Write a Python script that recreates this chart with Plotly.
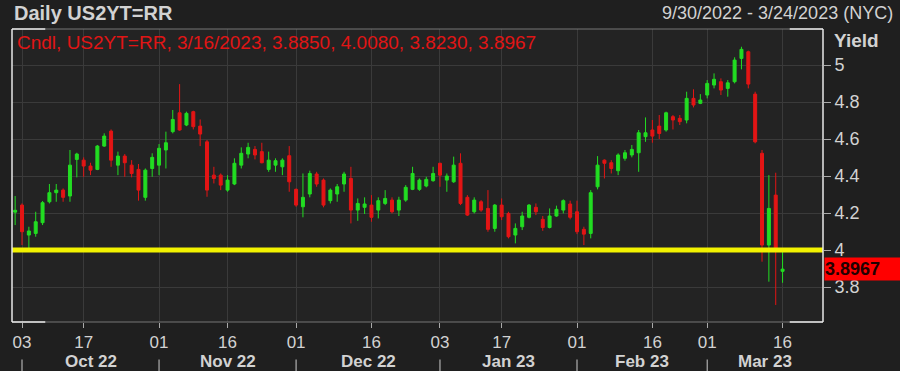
import plotly.graph_objects as go
import pandas as pd

# ---------------- data ----------------
holidays = ["2022-10-10", "2022-11-11", "2022-11-24", "2022-12-26",
            "2023-01-02", "2023-01-16", "2023-02-20"]
dates = [d.strftime("%Y-%m-%d") for d in pd.bdate_range("2022-09-30", "2023-03-16")
         if d.strftime("%Y-%m-%d") not in holidays]

opens = [4.205, 4.243, 4.081, 4.090, 4.148, 4.261, 4.310, 4.324, 4.292, 4.490,
         4.486, 4.454, 4.436, 4.562, 4.643, 4.459, 4.508, 4.459, 4.436, 4.285,
         4.441, 4.459, 4.541, 4.640, 4.742, 4.676, 4.748, 4.670, 4.585, 4.405,
         4.405, 4.324, 4.357, 4.459, 4.519, 4.544, 4.532, 4.436, 4.459, 4.450,
         4.510, 4.328, 4.234, 4.303, 4.411, 4.378, 4.267, 4.303, 4.357, 4.387,
         4.216, 4.231, 4.243, 4.216, 4.252, 4.270, 4.216, 4.270, 4.328, 4.328,
         4.346, 4.375, 4.469, 4.378, 4.369, 4.469, 4.285, 4.207, 4.261, 4.225,
         4.117, 4.243, 4.198, 4.081, 4.126, 4.177, 4.231, 4.166, 4.122, 4.184,
         4.216, 4.249, 4.207, 4.112, 4.090, 4.342, 4.486, 4.472, 4.429, 4.496,
         4.514, 4.526, 4.613, 4.649, 4.670, 4.649, 4.721, 4.712, 4.703, 4.820,
         4.793, 4.838, 4.892, 4.910, 4.874, 4.910, 5.036, 5.072, 4.843, 4.523,
         4.027, 4.297, 3.885]
highs = [4.292, 4.252, 4.126, 4.207, 4.265, 4.357, 4.357, 4.333, 4.541, 4.526,
         4.501, 4.472, 4.568, 4.631, 4.652, 4.532, 4.519, 4.486, 4.465, 4.441,
         4.523, 4.573, 4.640, 4.757, 4.897, 4.748, 4.753, 4.706, 4.595, 4.450,
         4.414, 4.405, 4.496, 4.555, 4.580, 4.562, 4.580, 4.532, 4.496, 4.496,
         4.562, 4.333, 4.414, 4.429, 4.423, 4.387, 4.333, 4.357, 4.423, 4.450,
         4.279, 4.285, 4.297, 4.285, 4.324, 4.285, 4.288, 4.351, 4.450, 4.387,
         4.396, 4.450, 4.472, 4.414, 4.505, 4.523, 4.297, 4.285, 4.270, 4.324,
         4.249, 4.279, 4.207, 4.144, 4.207, 4.249, 4.252, 4.184, 4.225, 4.240,
         4.274, 4.267, 4.267, 4.126, 4.324, 4.508, 4.490, 4.486, 4.523, 4.541,
         4.568, 4.649, 4.717, 4.703, 4.730, 4.748, 4.730, 4.730, 4.856, 4.869,
         4.843, 4.919, 4.955, 4.928, 4.919, 5.042, 5.099, 5.078, 4.856, 4.541,
         4.405, 4.418, 4.008]
lows = [4.135, 4.027, 4.009, 4.072, 4.135, 4.252, 4.261, 4.261, 4.261, 4.393,
        4.396, 4.405, 4.432, 4.558, 4.450, 4.405, 4.396, 4.393, 4.267, 4.267,
        4.396, 4.405, 4.441, 4.631, 4.645, 4.670, 4.652, 4.562, 4.288, 4.360,
        4.324, 4.315, 4.351, 4.441, 4.496, 4.490, 4.469, 4.423, 4.423, 4.405,
        4.315, 4.234, 4.177, 4.285, 4.342, 4.231, 4.252, 4.261, 4.315, 4.144,
        4.158, 4.195, 4.153, 4.171, 4.243, 4.198, 4.184, 4.261, 4.324, 4.320,
        4.339, 4.369, 4.342, 4.315, 4.363, 4.243, 4.184, 4.198, 4.207, 4.099,
        4.099, 4.162, 4.063, 4.036, 4.108, 4.171, 4.189, 4.104, 4.117, 4.180,
        4.198, 4.166, 4.086, 4.027, 4.063, 4.328, 4.387, 4.414, 4.405, 4.483,
        4.501, 4.423, 4.585, 4.580, 4.600, 4.640, 4.652, 4.676, 4.685, 4.771,
        4.789, 4.820, 4.874, 4.838, 4.829, 4.901, 4.977, 4.874, 4.577, 3.937,
        3.829, 3.703, 3.823]
closes = [4.215, 4.099, 4.103, 4.153, 4.256, 4.310, 4.324, 4.285, 4.459, 4.519,
          4.454, 4.432, 4.562, 4.616, 4.486, 4.508, 4.472, 4.414, 4.324, 4.432,
          4.501, 4.550, 4.580, 4.706, 4.649, 4.739, 4.667, 4.627, 4.324, 4.387,
          4.351, 4.378, 4.469, 4.523, 4.555, 4.514, 4.472, 4.486, 4.483, 4.486,
          4.369, 4.243, 4.285, 4.414, 4.357, 4.243, 4.324, 4.342, 4.411, 4.216,
          4.252, 4.249, 4.177, 4.267, 4.279, 4.207, 4.270, 4.339, 4.414, 4.378,
          4.382, 4.414, 4.405, 4.400, 4.459, 4.252, 4.189, 4.270, 4.216, 4.112,
          4.243, 4.180, 4.072, 4.117, 4.184, 4.243, 4.207, 4.122, 4.184, 4.220,
          4.267, 4.177, 4.099, 4.086, 4.310, 4.459, 4.469, 4.441, 4.514, 4.526,
          4.544, 4.634, 4.634, 4.616, 4.630, 4.742, 4.703, 4.694, 4.820, 4.784,
          4.811, 4.901, 4.923, 4.865, 4.904, 5.027, 5.085, 4.897, 4.585, 4.027,
          4.225, 4.000, 3.8967]

tick_dates = ["2022-10-03", "2022-10-17", "2022-11-01", "2022-11-16", "2022-12-01",
              "2022-12-16", "2023-01-03", "2023-01-17", "2023-02-01", "2023-02-16",
              "2023-03-01", "2023-03-16"]
tick_labels = ["03", "17", "01", "16", "01", "16", "03", "17", "01", "16", "01", "16"]
month_starts = ["2022-10-03", "2022-11-01", "2022-12-01", "2023-01-03", "2023-02-01", "2023-03-01"]
month_labels = ["Oct 22", "Nov 22", "Dec 22", "Jan 23", "Feb 23", "Mar 23"]
y_ticks = [3.8, 4.0, 4.2, 4.4, 4.6, 4.8, 5.0]
y_tick_labels = ["3.8", "4", "4.2", "4.4", "4.6", "4.8", "5"]
ref_level = 4.0
x_end = 117.9   # axis runs on to 3/24/2023
y_range = [3.611, 5.195]

title_left = "Daily US2YT=RR"
title_right = "9/30/2022 - 3/24/2023 (NYC)"
legend_text = "Cndl, US2YT=RR, 3/16/2023, 3.8850, 4.0080, 3.8230, 3.8967"
last_label = "3.8967"

# ---------------- styling ----------------
FONT = "Liberation Sans, Arial, sans-serif"
TXT = "#d2d2d2"
GREEN = "#22dd22"
RED = "#e31515"
GRID = "#3a3a3a"

idx = {d: i for i, d in enumerate(dates)}

fig = go.Figure()
fig.add_trace(go.Candlestick(
    x=dates, open=opens, high=highs, low=lows, close=closes,
    increasing=dict(line=dict(color=GREEN, width=1), fillcolor=GREEN),
    decreasing=dict(line=dict(color=RED, width=1), fillcolor=RED),
    whiskerwidth=0, showlegend=False, hoverinfo="skip",
))

shapes = []
# reference level line
shapes.append(dict(type="line", xref="paper", yref="y", x0=0, x1=1, y0=ref_level, y1=ref_level,
                   line=dict(color="#f2f200", width=5), layer="above"))
# frame
shapes += [
    dict(type="line", xref="paper", yref="paper", x0=0, x1=1, y0=1, y1=1, line=dict(color="#777777", width=1)),
    dict(type="line", xref="paper", yref="paper", x0=0, x1=1, y0=0, y1=0, line=dict(color="#777777", width=1)),
    dict(type="line", xref="paper", yref="paper", x0=0, x1=0, y0=0, y1=1, line=dict(color="#e8e8e8", width=1.5)),
    dict(type="line", xref="paper", yref="paper", x0=1, x1=1, y0=0, y1=1, line=dict(color="#e8e8e8", width=1.5)),
    dict(type="line", xref="paper", yref="paper", x0=0, x1=0.041, y0=1, y1=1, line=dict(color="#e8e8e8", width=1.5)),
    dict(type="line", xref="paper", yref="paper", x0=0, x1=0.041, y0=0, y1=0, line=dict(color="#e8e8e8", width=1.5)),
    dict(type="line", xref="paper", yref="paper", x0=0.959, x1=1, y0=1, y1=1, line=dict(color="#e8e8e8", width=1.5)),
    dict(type="line", xref="paper", yref="paper", x0=0.959, x1=1, y0=0, y1=0, line=dict(color="#e8e8e8", width=1.5)),
]
# month separators (second row of the date axis)
for d in month_starts:
    shapes.append(dict(type="line", xref="x", yref="paper", x0=idx[d], x1=idx[d],
                       y0=-0.128, y1=-0.17, line=dict(color="#cccccc", width=1)))

annotations = [
    dict(text="<b>" + title_left + "</b>", xref="paper", yref="paper", x=0, y=1, xanchor="left",
         yanchor="middle", xshift=0, yshift=16, showarrow=False, font=dict(size=20, color=TXT, family=FONT)),
    dict(text=title_right, xref="paper", yref="paper", x=1, y=1, xanchor="right",
         yanchor="middle", xshift=72, yshift=16, showarrow=False, font=dict(size=18, color=TXT, family=FONT)),
    dict(text=legend_text, xref="paper", yref="paper", x=0, y=1, xanchor="left",
         yanchor="middle", xshift=3, yshift=-13, showarrow=False, font=dict(size=19, color="#e01515", family=FONT)),
    dict(text="<b>Yield</b>", xref="paper", yref="paper", x=1, y=1, xanchor="left",
         yanchor="middle", xshift=9, yshift=-11, showarrow=False, font=dict(size=19, color=TXT, family=FONT)),
    dict(text="<b>" + last_label + "</b>", xref="paper", yref="y", x=1, y=closes[-1], xanchor="left",
         yanchor="middle", xshift=1, showarrow=False, bgcolor="#ff0000", width=76, height=22, align="left",
         borderpad=0, font=dict(size=18, color="#220000", family=FONT)),
]
month_ends = month_starts[1:] + [None]
for s, e, lab in zip(month_starts, month_ends, month_labels):
    x0 = idx[s]
    x1 = idx[e] if e is not None else x_end
    annotations.append(dict(text="<b>" + lab + "</b>", xref="x", yref="paper", x=(x0 + x1) / 2, y=-0.134,
                            xanchor="center", yanchor="middle", showarrow=False, borderpad=0,
                            font=dict(size=17, color=TXT, family=FONT)))

fig.update_layout(
    width=900, height=371,
    margin=dict(l=12, r=77, t=29, b=49),
    paper_bgcolor="#1f1f1f", plot_bgcolor="#232323",
    boxgap=0.38,
    shapes=shapes, annotations=annotations,
    xaxis=dict(type="category", range=[-0.46, x_end], rangeslider=dict(visible=False),
               tickvals=tick_dates, ticktext=tick_labels, tickangle=0,
               showgrid=True, gridcolor=GRID, gridwidth=1, zeroline=False, showline=False,
               ticks="outside", ticklen=5, tickcolor="#aaaaaa",
               tickfont=dict(size=17, color=TXT, family=FONT)),
    yaxis=dict(side="right", range=y_range, tickvals=y_ticks, ticktext=y_tick_labels,
               showgrid=True, gridcolor=GRID, gridwidth=1, zeroline=False, showline=False,
               ticks="outside", ticklen=7, tickcolor="#aaaaaa",
               tickfont=dict(size=18, color=TXT, family=FONT)),
)

fig.write_html("out.html")
